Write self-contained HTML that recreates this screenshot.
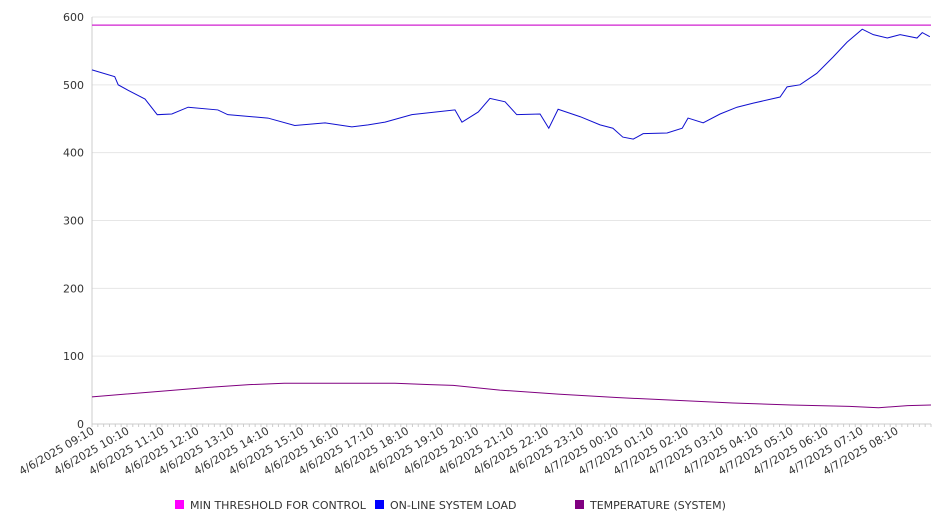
<!DOCTYPE html>
<html><head><meta charset="utf-8"><style>
body{margin:0;background:#fff;font-family:"Liberation Sans","DejaVu Sans",sans-serif}
</style></head><body>
<svg id="chart" width="946" height="526" xmlns="http://www.w3.org/2000/svg" font-family="DejaVu Sans, Liberation Sans, sans-serif"></svg>
<script>
const yTicks=[0,100,200,300,400,500,600];
const xLabels=["4/6/2025 09:10","4/6/2025 10:10","4/6/2025 11:10","4/6/2025 12:10","4/6/2025 13:10","4/6/2025 14:10","4/6/2025 15:10","4/6/2025 16:10","4/6/2025 17:10","4/6/2025 18:10","4/6/2025 19:10","4/6/2025 20:10","4/6/2025 21:10","4/6/2025 22:10","4/6/2025 23:10","4/7/2025 00:10","4/7/2025 01:10","4/7/2025 02:10","4/7/2025 03:10","4/7/2025 04:10","4/7/2025 05:10","4/7/2025 06:10","4/7/2025 07:10","4/7/2025 08:10"];
const loadMinutes=[0,39,45,62,91,112,137,165,216,233,302,348,400,446,474,503,549,623,635,663,683,709,726,729,769,784,800,838,872,894,911,929,946,987,1013,1023,1049,1078,1107,1135,1181,1193,1215,1244,1272,1296,1322,1341,1365,1387,1416,1425,1438];
const loadValues=[522,512,500,492,479,456,457,467,463,456,451,440,444,438,441,445,456,463,445,460,480,475,459,456,457,436,464,453,441,436,423,420,428,429,436,451,444,457,467,473,482,497,500,517,541,563,582,574,569,574,569,577,571];
const tempMinutes=[0,100,200,270,330,520,580,620,700,800,900,1000,1100,1200,1300,1350,1400,1440];
const tempValues=[40,47,54,58,60,60,58,57,50,44,39,35,31,28,26,24,27,28];
const threshold=588;
const X0=92,X1=931,Y0=424,Y1=17,TMAX=1440,VMAX=600;
const xs=m=>X0+(X1-X0)*m/TMAX;
const ys=v=>Y0-(Y0-Y1)*v/VMAX;
const svg=document.getElementById('chart');
const NS="http://www.w3.org/2000/svg";
function mk(tag,attrs,parent){const e=document.createElementNS(NS,tag);for(const k in attrs)e.setAttribute(k,attrs[k]);(parent||svg).appendChild(e);return e;}
yTicks.forEach(v=>{
  const g=mk('line',{x1:X0,x2:X1,y1:ys(v),y2:ys(v),stroke:v===0?'#ccc':'#e6e6e6','stroke-width':1});
  
  
  const t=mk('text',{x:84,y:ys(v)+4,'text-anchor':'end','font-size':11,fill:'#333'});
  t.textContent=v;
  
  
});
const ax=mk('line',{x1:X0,x2:X0,y1:Y1,y2:Y0,stroke:'#ccc'});


for(let m=0;m<=TMAX;m+=10){const tk=mk('line',{x1:xs(m),x2:xs(m),y1:Y0,y2:Y0+3,stroke:'#ccc'});}
xLabels.forEach((l,i)=>{
  const x=xs(i*60)+3,y=433;
  const t=mk('text',{x:x,y:y,'text-anchor':'end','font-size':11,fill:'#333',transform:`rotate(-30 ${x} ${y})`});
  t.textContent=l;
  
  
});
const th=mk('line',{x1:X0,x2:X1,y1:ys(threshold),y2:ys(threshold),stroke:'#d020d0','stroke-width':1.2});


const lp=mk('polyline',{points:loadMinutes.map((m,i)=>xs(m)+','+ys(loadValues[i])).join(' '),fill:'none',stroke:'#1010d0','stroke-width':1});


const tp=mk('polyline',{points:tempMinutes.map((m,i)=>xs(m)+','+ys(tempValues[i])).join(' '),fill:'none',stroke:'#800080','stroke-width':1});


const legend=[["MIN THRESHOLD FOR CONTROL","#ff00ff",175],["ON-LINE SYSTEM LOAD","#0000ff",375],["TEMPERATURE (SYSTEM)","#800080",575]];
legend.forEach(([n,c,x])=>{
  const g=mk('g',{});
  
  
  mk('rect',{x:x,y:500,width:9,height:9,fill:c},g);
  const t=mk('text',{x:x+15,y:509,'font-size':11,fill:'#333'},g);
  t.textContent=n;
});
</script>
</body></html>
